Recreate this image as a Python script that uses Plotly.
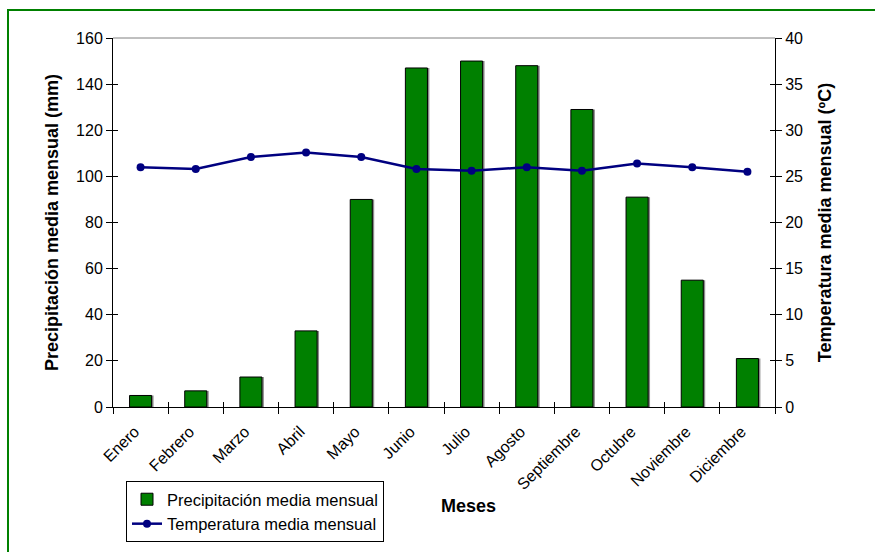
import plotly.graph_objects as go

# Monthly climate data
meses = ["Enero", "Febrero", "Marzo", "Abril", "Mayo", "Junio", "Julio",
         "Agosto", "Septiembre", "Octubre", "Noviembre", "Diciembre"]
precipitacion = [5, 7, 13, 33, 90, 147, 150, 148, 129, 91, 55, 21]
temperatura = [26.0, 25.8, 27.1, 27.6, 27.1, 25.8, 25.6, 26.0, 25.6, 26.4, 26.0, 25.5]

W, H = 875, 552
L, R, T, B = 113, 100, 38, 145
pw, ph = W - L - R, H - T - B


def px_x(p):
    return (p - L) / pw


def px_y(p):
    return (H - B - p) / ph


FONT = "Liberation Sans, Arial, sans-serif"
BAR_W = 0.4

fig = go.Figure()

# soft shadow behind each bar
fig.add_trace(go.Bar(
    x=meses, y=precipitacion, width=BAR_W, offset=-BAR_W / 2 + 0.035,
    marker=dict(color="#8a8a8a", line=dict(width=0)),
    showlegend=False, hoverinfo="skip", yaxis="y"))

fig.add_trace(go.Bar(
    x=meses, y=precipitacion, width=BAR_W, offset=-BAR_W / 2,
    name="Precipitación media mensual",
    marker=dict(color="#008000", line=dict(color="black", width=1)),
    yaxis="y"))

fig.add_trace(go.Scatter(
    x=meses, y=temperatura, mode="lines+markers",
    name="Temperatura media mensual",
    line=dict(color="#000080", width=2.5),
    marker=dict(color="#000080", size=8, symbol="circle"),
    yaxis="y2"))

tickfont = dict(family=FONT, size=16, color="black")
title_font = dict(family=FONT, size=18, color="black")

fig.update_layout(
    width=W, height=H,
    margin=dict(l=L, r=R, t=T, b=B, autoexpand=False),
    paper_bgcolor="white", plot_bgcolor="white",
    barmode="overlay",
    showlegend=True,
    legend=dict(
        x=px_x(126), y=px_y(481), xanchor="left", yanchor="top",
        bgcolor="white", bordercolor="black", borderwidth=1,
        font=dict(family=FONT, size=16.5, color="black"),
        tracegroupgap=0, itemwidth=30,
    ),
    xaxis=dict(
        type="category", range=[-0.5, 11.5],
        showline=True, linecolor="black", linewidth=1,
        ticks="outside", tickson="boundaries", ticklen=6, tickcolor="black",
        tickangle=-45, tickfont=tickfont, showgrid=False, zeroline=False,
        ticklabelstandoff=8, ticklabelshift=-6,
    ),
    xaxis2=dict(
        overlaying="x", range=[-0.5, 11.5], showticklabels=False,
        tickmode="linear", tick0=-0.5, dtick=1,
        ticks="inside", ticklen=5, tickcolor="black",
        showgrid=False, zeroline=False, showline=False,
    ),
    yaxis=dict(
        range=[0, 160], dtick=20, showgrid=False, zeroline=False,
        showline=True, linecolor="black", linewidth=1,
        ticks="outside", ticklen=6, tickcolor="black", tickfont=tickfont,
        title=dict(text="<b>Precipitación media mensual (mm)</b>",
                   font=title_font, standoff=12),
    ),
    yaxis2=dict(
        range=[0, 40], dtick=5, overlaying="y", side="right",
        showgrid=False, zeroline=False,
        showline=True, linecolor="black", linewidth=1,
        ticks="outside", ticklen=6, tickcolor="black", tickfont=tickfont,
        title=dict(text="<b>Temperatura media mensual (ºC)</b>",
                   font=title_font, standoff=16),
    ),
    yaxis3=dict(
        range=[0, 160], dtick=20, overlaying="y", side="left",
        showticklabels=False, showgrid=False, zeroline=False, showline=False,
        ticks="inside", ticklen=5, tickcolor="black",
    ),
    yaxis4=dict(
        range=[0, 40], dtick=5, overlaying="y", side="right",
        showticklabels=False, showgrid=False, zeroline=False, showline=False,
        ticks="inside", ticklen=5, tickcolor="black",
    ),
    shapes=[
        # top edge of plot area
        dict(type="line", xref="paper", yref="paper", x0=0, x1=1, y0=1, y1=1,
             line=dict(color="#808080", width=1)),
        # outer chart frame
        dict(type="rect", xref="paper", yref="paper",
             x0=px_x(8), x1=px_x(884), y0=px_y(10), y1=px_y(570),
             line=dict(color="#008000", width=2), layer="below"),
    ],
    annotations=[
        dict(text="<b>Meses</b>", xref="paper", yref="paper",
             x=px_x(468), y=px_y(518), showarrow=False,
             font=dict(family=FONT, size=18, color="black")),
    ],
)

# invisible traces so the tick-only overlay axes are rendered
fig.add_trace(go.Scatter(x=[0], y=[0], xaxis="x2", yaxis="y3", mode="markers",
                         marker=dict(opacity=0), showlegend=False, hoverinfo="skip"))
fig.add_trace(go.Scatter(x=[0], y=[0], xaxis="x2", yaxis="y4", mode="markers",
                         marker=dict(opacity=0), showlegend=False, hoverinfo="skip"))

fig.write_html("out.html")
